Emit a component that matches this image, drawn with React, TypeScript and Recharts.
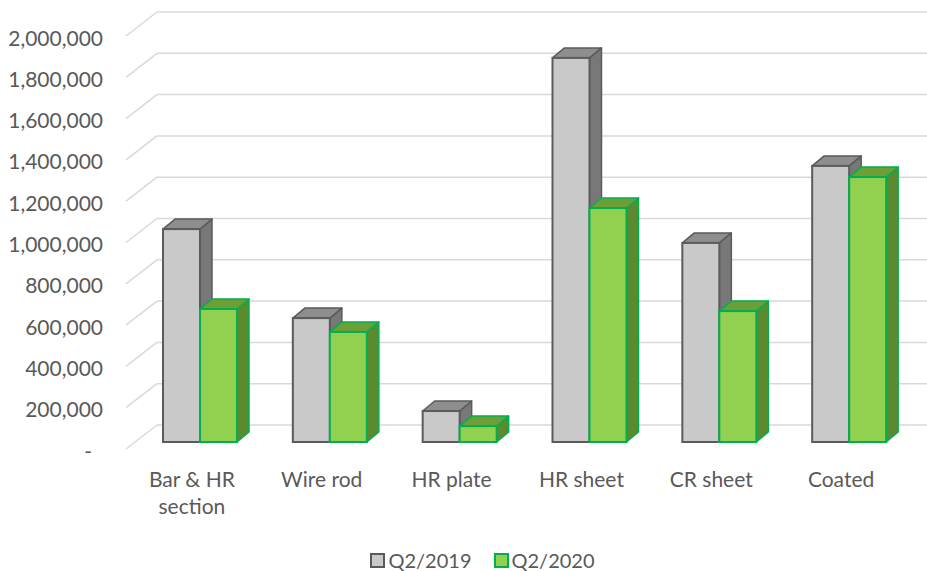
import React from "react";
import { BarChart, Bar, XAxis, YAxis, CartesianGrid, Legend } from "recharts";

const categories = ["Bar & HR section", "Wire rod", "HR plate", "HR sheet", "CR sheet", "Coated"];
const q2_2019 = [1031000, 600000, 150000, 1860000, 964000, 1337000];
const q2_2020 = [644000, 533000, 77000, 1133000, 634000, 1283000];
const yTicks = [0, 200000, 400000, 600000, 800000, 1000000, 1200000, 1400000, 1600000, 1800000, 2000000];
const seriesNames = ["Q2/2019", "Q2/2020"];

const data = categories.map((category, i) => ({
  category,
  q2019: q2_2019[i],
  q2020: q2_2020[i],
}));

const FONT = "Lato, 'Open Sans', sans-serif";
const TEXT = "#595959";
const DX = 12; // depth of the 3d bars
const DY = 10;

const faces = {
  gray: { front: "#c9c9c9", top: "#8e8e8e", side: "#787878", stroke: "#5b5b5b" },
  green: { front: "#92d050", top: "#6e9f37", side: "#5c8a2f", stroke: "#00b050" },
};

const make3dBar = (c: typeof faces.gray) => (props: any) => {
  const { x, y, width, height } = props;
  if (height == null || width == null) return <g />;
  const r = x + width;
  const b = y + height;
  return (
    <g>
      <polygon
        points={`${r},${y} ${r + DX},${y - DY} ${r + DX},${b - DY} ${r},${b}`}
        fill={c.side}
        stroke={c.stroke}
        strokeWidth={1.5}
        strokeLinejoin="round"
      />
      <polygon
        points={`${x},${y} ${x + DX},${y - DY} ${r + DX},${y - DY} ${r},${y}`}
        fill={c.top}
        stroke={c.stroke}
        strokeWidth={1.5}
        strokeLinejoin="round"
      />
      <rect x={x} y={y} width={width} height={height} fill={c.front} stroke={c.stroke} strokeWidth={2} />
    </g>
  );
};

// back wall gridline with the slanted piece on the left side wall
const gridLine = (props: any) => {
  const { x1, x2, y1, key } = props;
  return (
    <g key={key}>
      <line x1={x1 - 9} y1={y1 + 7} x2={x1 + 22} y2={y1 - 17} stroke="#d9d9d9" strokeWidth={1.5} />
      <line x1={x1 + 22} y1={y1 - 17} x2={x2 + 13} y2={y1 - 17} stroke="#d9d9d9" strokeWidth={1.5} />
    </g>
  );
};

const YTick = (props: any) => {
  const { y, payload } = props;
  const v = payload.value;
  return (
    <text
      x={v === 0 ? 92 : 103}
      y={y + 8}
      textAnchor="end"
      dominantBaseline="central"
      fill={TEXT}
      fontSize={21}
      fontFamily={FONT}
    >
      {v === 0 ? "-" : v.toLocaleString("en-US")}
    </text>
  );
};

const splitLabel = (s: string) => {
  const lines: string[] = [];
  let cur = "";
  s.split(" ").forEach((w) => {
    const next = cur ? cur + " " + w : w;
    if (next.length > 9 && cur) {
      lines.push(cur);
      cur = w;
    } else cur = next;
  });
  if (cur) lines.push(cur);
  return lines;
};

const CatTick = (props: any) => {
  const { x, payload } = props;
  const lines = splitLabel(payload.value);
  return (
    <text x={x - 8} y={478} textAnchor="middle" fill={TEXT} fontSize={21} fontFamily={FONT}>
      {lines.map((l, i) => (
        <tspan key={i} x={x - 8} y={478 + i * 27} dominantBaseline="central">
          {l}
        </tspan>
      ))}
    </text>
  );
};

const LegendContent = () => (
  <div
    style={{
      display: "flex",
      justifyContent: "center",
      alignItems: "center",
      height: 26,
      fontFamily: FONT,
      fontSize: 20,
      color: TEXT,
      gap: 22,
      paddingLeft: 38,
    }}
  >
    {[faces.gray, faces.green].map((c, i) => (
      <div key={i} style={{ display: "flex", alignItems: "center", gap: 3 }}>
        <span
          style={{
            display: "inline-block",
            width: 11,
            height: 11,
            background: c.front,
            border: `2px solid ${c.stroke}`,
          }}
        />
        <span>{seriesNames[i]}</span>
      </div>
    ))}
  </div>
);

export default function App() {
  return (
    <div style={{ position: "absolute", left: 0, top: 0, width: 927, height: 571, background: "#fff" }}>
      <BarChart
        width={927}
        height={571}
        data={data}
        margin={{ top: 29, right: 13, left: 0, bottom: 33 }}
        barGap={0}
        barSize={37}
      >
        <CartesianGrid vertical={false} horizontal={gridLine} />
        <XAxis dataKey="category" axisLine={false} tickLine={false} interval={0} height={70} tick={CatTick} />
        <YAxis
          domain={[0, 2000000]}
          ticks={yTicks}
          axisLine={false}
          tickLine={false}
          width={135}
          tick={YTick}
          interval={0}
        />
        <Legend verticalAlign="bottom" content={LegendContent} wrapperStyle={{ left: 0, width: 927, top: 547 }} />
        <Bar dataKey="q2019" name={seriesNames[0]} shape={make3dBar(faces.gray)} isAnimationActive={false} />
        <Bar dataKey="q2020" name={seriesNames[1]} shape={make3dBar(faces.green)} isAnimationActive={false} />
      </BarChart>
    </div>
  );
}
